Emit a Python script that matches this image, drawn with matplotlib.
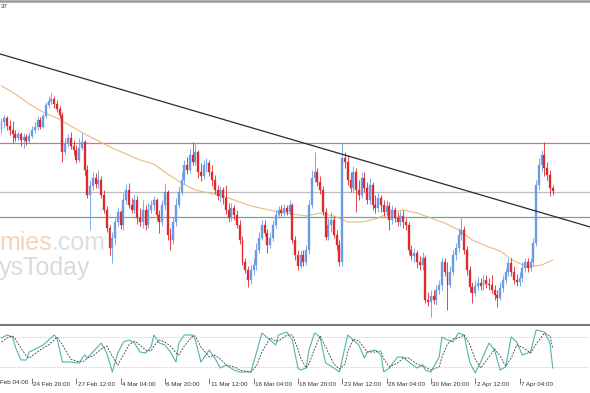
import numpy as np
import matplotlib
matplotlib.use("Agg")
import matplotlib.pyplot as plt
from matplotlib.transforms import ScaledTranslation

# ---------------- data (H4 candles, arbitrary price units) ----------------
open_first = 270
close = [278, 282, 274, 270, 266, 262, 266, 260, 263, 259,
         264, 270, 273, 280, 273, 284, 295, 299, 301, 296,
         291, 285, 248, 257, 262, 254, 250, 240, 252, 258,
         230, 205, 214, 222, 216, 220, 205, 190, 172, 152,
         162, 178, 188, 175, 200, 210, 195, 190, 200, 182,
         178, 190, 175, 190, 195, 200, 185, 178, 195, 208,
         165, 160, 178, 195, 208, 220, 235, 230, 245, 238,
         248, 228, 224, 235, 237, 228, 220, 210, 204, 210,
         202, 190, 182, 192, 185, 175, 160, 138, 130, 120,
         130, 135, 150, 162, 175, 167, 155, 162, 175, 185,
         190, 187, 192, 188, 195, 160, 145, 134, 145, 138,
         150, 195, 222, 228, 218, 210, 188, 163, 175, 180,
         165, 155, 138, 242, 238, 220, 212, 228, 210, 205,
         222, 212, 200, 215, 195, 192, 202, 195, 188, 194,
         180, 190, 182, 178, 184, 178, 175, 150, 144, 147,
         138, 135, 142, 100, 98, 104, 100, 110, 115, 138,
         128, 115, 128, 145, 152, 165, 170, 150, 130, 113,
         107, 114, 117, 114, 120, 116, 115, 110, 105, 102,
         112, 120, 128, 137, 128, 120, 118, 122, 132, 138,
         132, 138, 157, 215, 235, 245, 232, 225, 212, 209]
high = [282, 285, 284, 280, 279, 270, 269, 268, 267, 266,
        268, 274, 278, 284, 283, 286, 298, 304, 307, 304,
        300, 294, 288, 262, 266, 268, 260, 255, 262, 267,
        260, 235, 220, 228, 227, 230, 224, 210, 194, 175,
        168, 182, 192, 190, 207, 216, 217, 202, 205, 204,
        192, 200, 195, 197, 200, 204, 202, 190, 200, 217,
        210, 172, 183, 202, 214, 228, 240, 243, 251, 258,
        257, 250, 237, 240, 242, 240, 235, 225, 215, 214,
        213, 215, 197, 197, 195, 190, 180, 164, 142, 134,
        135, 142, 157, 168, 180, 180, 171, 168, 180, 190,
        194, 195, 196, 195, 200, 197, 164, 150, 150, 150,
        155, 200, 230, 248, 232, 224, 214, 192, 182, 188,
        184, 170, 160, 257, 248, 245, 228, 234, 232, 220,
        228, 228, 218, 222, 218, 205, 207, 205, 200, 200,
        198, 195, 193, 188, 189, 190, 182, 178, 155, 152,
        150, 144, 148, 145, 108, 110, 110, 115, 120, 142,
        142, 138, 134, 150, 157, 172, 183, 174, 154, 134,
        118, 120, 123, 122, 125, 125, 122, 125, 115, 110,
        118, 125, 132, 142, 142, 134, 126, 128, 138, 142,
        142, 142, 162, 220, 242, 250, 258, 238, 230, 215]
low = [267, 272, 270, 265, 257, 259, 260, 254, 252, 255,
       257, 262, 267, 270, 271, 272, 282, 292, 296, 292,
       288, 282, 238, 245, 253, 251, 245, 237, 238, 250,
       225, 202, 170, 210, 212, 212, 202, 187, 168, 145,
       137, 155, 174, 171, 170, 196, 192, 187, 187, 176,
       174, 172, 170, 172, 187, 190, 180, 167, 174, 190,
       160, 150, 156, 174, 192, 205, 216, 226, 227, 235,
       235, 222, 219, 221, 228, 224, 214, 206, 200, 198,
       196, 186, 178, 179, 180, 172, 156, 135, 127, 113,
       116, 125, 130, 147, 160, 164, 147, 152, 159, 172,
       182, 184, 184, 185, 185, 157, 140, 130, 132, 134,
       135, 146, 192, 218, 214, 206, 185, 160, 160, 168,
       162, 150, 134, 134, 232, 215, 208, 208, 188, 200,
       202, 208, 196, 196, 190, 187, 188, 188, 184, 184,
       170, 176, 178, 174, 174, 172, 170, 146, 140, 138,
       132, 130, 130, 97, 94, 83, 96, 95, 106, 110,
       124, 90, 112, 125, 140, 148, 160, 146, 125, 108,
       97, 104, 110, 110, 110, 112, 110, 107, 100, 93,
       100, 108, 116, 124, 124, 116, 114, 114, 118, 128,
       128, 129, 134, 154, 210, 228, 224, 220, 204, 205]

ma_bars = [0, 5, 10, 15, 20, 25, 30, 35, 40, 45, 50, 55, 60, 65, 70, 75, 80,
           85, 90, 95, 100, 105, 110, 115, 120, 125, 130, 135, 140, 145, 150,
           155, 160, 165, 170, 175, 180, 185, 190, 195, 199]
ma_vals = [314, 306, 296, 288, 282, 274, 266, 259, 252, 246, 240, 236, 226,
           217, 210, 207, 204, 199, 194, 191, 188, 186, 184, 187, 184, 178,
           178, 181, 187, 190, 187, 182, 177, 170, 160, 154, 149, 139, 133,
           135, 140]

resistance_level = 257
pivot_level = 208
support_level = 183.3
trend_bars = [0, 199]
trend_vals = [345.6, 184]

stoch_bars = [0, 2, 4, 5, 7, 9, 10, 13, 15, 17, 19, 20, 22, 25, 28, 30, 31, 33,
              36, 38, 40, 42, 44, 46, 48, 50, 52, 54, 55, 57, 59, 61, 63, 64,
              66, 69, 70, 72, 75, 77, 79, 81, 84, 86, 90, 92, 94, 97, 99, 100,
              103, 105, 107, 108, 110, 111, 113, 115, 117, 120, 122, 124, 125,
              127, 129, 131, 132, 135, 137, 138, 140, 143, 145, 147, 150, 152,
              153, 155, 158, 159, 161, 163, 165, 167, 169, 171, 173, 176, 178,
              180, 182, 184, 186, 188, 191, 193, 196, 198, 199]
stoch_k = [78, 84, 80, 60, 34, 34, 50, 58, 64, 74, 84, 78, 30, 30, 28, 44, 38, 50,
           68, 48, 10, 48, 70, 74, 68, 50, 48, 60, 84, 68, 64, 50, 30, 68,
           84, 84, 74, 30, 54, 38, 18, 24, 14, 10, 10, 48, 88, 74, 64, 84,
           90, 74, 18, 14, 18, 54, 88, 80, 28, 18, 10, 60, 84,
           74, 64, 38, 50, 54, 44, 10, 18, 40, 40, 30, 18, 24,
           14, 10, 40, 80, 74, 70, 88, 84, 30, 8, 30, 68, 54,
           14, 20, 80, 70, 44, 50, 94, 90, 68, 18]
stoch_d = [70, 78, 82, 76, 58, 42, 38, 50, 58, 64, 74, 80, 64, 36, 30, 32, 38, 42,
           56, 62, 42, 24, 44, 64, 72, 64, 54, 52, 62, 74, 70, 62, 48, 44,
           62, 82, 82, 60, 40, 44, 36, 24, 20, 14, 10, 22, 50, 78, 72, 72,
           84, 84, 56, 38, 18, 26, 56, 82, 60, 26, 16, 26, 50,
           76, 72, 58, 50, 50, 52, 36, 20, 28, 38, 38, 26, 22,
           20, 14, 20, 40, 66, 76, 78, 84, 66, 36, 18, 40, 56,
           42, 22, 38, 64, 60, 48, 66, 88, 82, 58]
stoch_levels = [20, 80]

tick_bars = [11, 27, 43, 59, 75, 91, 107, 123, 139, 155, 171, 187]
tick_labels = ["24 Feb 20:00", "27 Feb 12:00", "4 Mar 04:00", "6 Mar 20:00",
               "11 Mar 12:00", "16 Mar 04:00", "18 Mar 20:00", "23 Mar 12:00",
               "26 Mar 04:00", "30 Mar 20:00", "2 Apr 12:00", "7 Apr 04:00"]
first_label = "Feb 04:00"
header_text = "37"

# ---------------- styling / layout ----------------
W, H = 590, 393
BULL = "#6b9be6"
BEAR = "#dc2a30"
plt.rcParams["font.family"] = ["Liberation Sans", "DejaVu Sans"]

fig = plt.figure(figsize=(W / 100, H / 100), dpi=100)
fig.patch.set_facecolor("white")

def fy(py):
    return 1 - py / H

XLIM = (-0.54, 212.45)

ax = fig.add_axes([0, fy(322), 1, 318 / H])
ax.set_xlim(*XLIM)
ax.set_ylim(78, 396)
ax.axis("off")

c = np.array(close, float)
o = np.r_[open_first, c[:-1]]
h = np.array(high, float)
l = np.array(low, float)
x = np.arange(len(c))
up = c >= o
dn = ~up

# watermark (behind everything)
t1 = fig.text(-1 / W, fy(250), "mies", fontsize=18, color="#f6d3ba",
              va="baseline", ha="left", zorder=0)
ax.annotate(".com", xy=(1, 0), xycoords=t1, va="bottom", ha="left",
            fontsize=18, color="#dedede", annotation_clip=False, zorder=0)
fig.text(-1 / W, fy(275), "ysToday", fontsize=18, color="#dadada",
         va="baseline", ha="left", zorder=0)

# background elements
ax.axhline(resistance_level, color="#d9707c", lw=0.9, zorder=1)
ax.axhline(pivot_level, color="#bcbcbc", lw=0.9, zorder=1)
ax.axhline(support_level, color="#6fa892", lw=0.9, zorder=1)
ax.plot(ma_bars, ma_vals, color="#ebba7e", lw=0.8, zorder=1.5)

for m, col in ((up, BULL), (dn, BEAR)):
    ax.vlines(x[m], l[m], h[m], color=col, lw=0.6, zorder=2)
    ax.bar(x[m], (c - o)[m], bottom=o[m], width=0.7, color=col,
           edgecolor=col, lw=0.25, zorder=2.5)

ax.axline((trend_bars[0], trend_vals[0]), (trend_bars[1], trend_vals[1]),
          color="#2a2a2a", lw=0.9, zorder=3)

# stochastic panel
ax2 = fig.add_axes([0, fy(378), 1, 52 / H])
ax2.set_xlim(*XLIM)
ax2.set_ylim(-2, 102)
for s in ax2.spines.values():
    s.set_visible(False)
ax2.set_yticks([])
for lv in stoch_levels:
    ax2.axhline(lv, color="#b8b8b8", lw=0.6, ls=(0, (1, 1.5)))
ax2.plot(stoch_bars, stoch_k, color="#52b3ae", lw=0.8)
ax2.plot(stoch_bars, stoch_d, color="#3a3a3a", lw=0.6, ls=(0, (2.2, 1.6)))

ax2.set_xticks(tick_bars)
ax2.set_xticklabels(tick_labels, fontsize=4.5, color="#333333")
ax2.tick_params(axis="x", direction="out", length=4.0, width=0.6,
                color="#666666", pad=-1.9)
shift = ScaledTranslation(1.4 / 100, -1.0 / 100, fig.dpi_scale_trans)
for lbl in ax2.get_xticklabels():
    lbl.set_horizontalalignment("left")
    lbl.set_transform(lbl.get_transform() + shift)
fig.text(0.5 / W, fy(380.5), first_label, fontsize=4.5, color="#333333",
         va="top", ha="left")

# frame lines
fig.add_artist(plt.Line2D([0, 1], [fy(1.3), fy(1.3)], color="#9a9a9a", lw=1.8))
fig.add_artist(plt.Line2D([0, 1], [fy(325), fy(325)], color="#7a7a7a", lw=1.5))
fig.text(0.5 / W, fy(4.5), header_text, fontsize=4.5, color="#333333",
         va="top", ha="left")

fig.savefig("out.png", dpi=100, facecolor="white")
